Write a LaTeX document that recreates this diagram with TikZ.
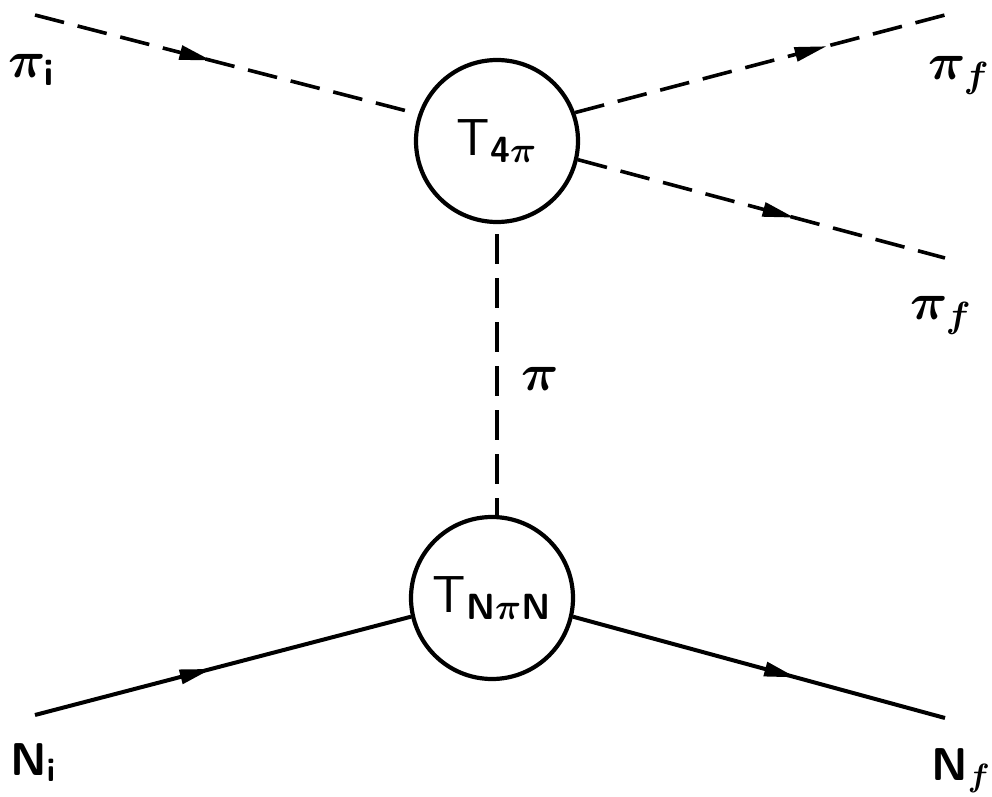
\RequirePackage{fix-cm}
\documentclass[tikz,border=0pt]{standalone}
\usepackage{tikz}
\usetikzlibrary{arrows.meta, decorations.markings}

\begin{document}
\begin{tikzpicture}[x=0.5pt, y=-0.5pt,
  vertex/.style={circle, draw=black, line width=2.1pt, minimum size=81pt,
                 inner sep=0pt, font=\fontsize{26}{29}\selectfont\sffamily\boldmath},
  pionline/.style={line width=1.8pt, dash pattern=on 15pt off 7pt},
  nucline/.style={line width=2pt},
  midarrow/.style={postaction={decorate}, decoration={markings,
      mark=at position #1 with {\arrow{Triangle[length=16pt, width=7pt]}}}},
  plbl/.style={anchor=base west, inner sep=0pt, font=\fontsize{26}{28}\selectfont\boldmath},
  nlbl/.style={anchor=base west, inner sep=0pt, font=\fontsize{23}{26}\selectfont\sffamily\bfseries\boldmath}
]
\useasboundingbox (0,0) rectangle (992,797);
% The two vertices
\node[vertex] (t4pi)  at (497,141) {T$_{\mathsf{4}\pi}$};
\node[vertex] (tnpin) at (492,598) {T$_{\mathsf{N}\pi\mathsf{N}}$};
% Free ends of the external lines
\coordinate (piin)   at (35,15);
\coordinate (piout)  at (945,15);
\coordinate (piout2) at (945,258);
\coordinate (nin)    at (35,715);
\coordinate (nout)   at (945,718);
% Pion lines
\draw[pionline, midarrow=0.46] (piin) -- (t4pi.161);
\draw[pionline, midarrow=0.68] (t4pi.20) -- (piout);
\draw[pionline, midarrow=0.59] (t4pi.-13) -- (piout2);
\draw[pionline, shorten <=5pt] (t4pi.south) -- (t4pi.south |- tnpin.north);
% Nucleon lines
\draw[nucline, midarrow=0.47] (nin) -- (tnpin.193);
\draw[nucline, midarrow=0.6] (tnpin.-13) -- (nout);
% Labels
\node[plbl] (lpii)  at (8,78)    {$\pi_{\mathsf{i}}$};
\node[plbl] (lpif)  at (928,80)  {$\pi_{f}$};
\node[plbl] (lpif2) at (910,320) {$\pi_{f}$};
\node[plbl] (lpi)   at (521,390) {$\pi$};
\node[nlbl] (lni)   at (10,775)  {N$_{\mathsf{i}}$};
\node[nlbl] (lnf)   at (931,780) {N$_{f}$};
\end{tikzpicture}
\end{document}
